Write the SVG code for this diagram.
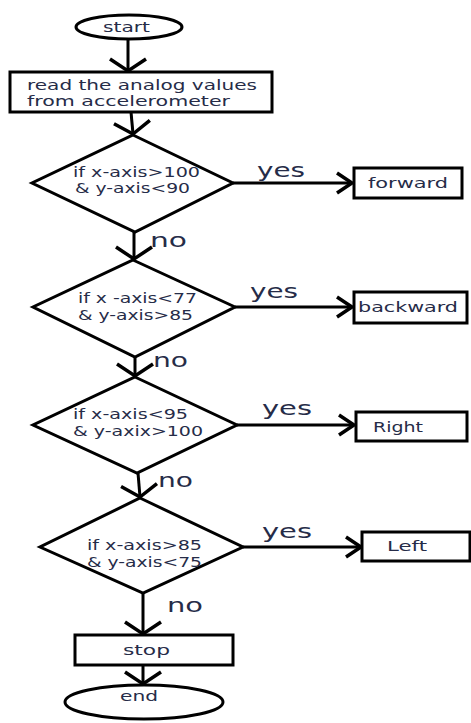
<svg xmlns="http://www.w3.org/2000/svg" width="471" height="723" viewBox="0 0 471 723">
<style>
.shape{fill:#fff;stroke:#000;stroke-width:3}
.conn{fill:none;stroke:#000;stroke-width:3}
.t{font-family:"DejaVu Sans","Liberation Sans",sans-serif;fill:#262c48}
.s{font-size:14px}
.m{font-size:13.5px}
.l{font-size:20px}
</style>
<defs>
<marker id="av" markerUnits="userSpaceOnUse" markerWidth="40" markerHeight="44" refX="0" refY="0" orient="auto" overflow="visible">
<path d="M -12 -18 L 0 0 L -12 18" fill="none" stroke="#000" stroke-width="3.5"/>
</marker>
<marker id="ah" markerUnits="userSpaceOnUse" markerWidth="20" markerHeight="26" refX="0" refY="0" orient="auto" overflow="visible">
<path d="M -15 -10 L 0 0 L -15 10" fill="none" stroke="#000" stroke-width="3.5"/>
</marker>
</defs>
<rect width="471" height="723" fill="#fff"/>
<g id="connectors">
<path class="conn" d="M128 39 L128 71" marker-end="url(#av)"/>
<path class="conn" d="M131 112 L133 134" marker-end="url(#av)"/>
<path class="conn" d="M134 232 L134 259" marker-end="url(#av)"/>
<path class="conn" d="M135 357 L135 376" marker-end="url(#av)"/>
<path class="conn" d="M138 473 L140 497" marker-end="url(#av)"/>
<path class="conn" d="M143 593 L143 634" marker-end="url(#av)"/>
<path class="conn" d="M143 665 L143 684" marker-end="url(#av)"/>
<path class="conn" d="M233 183 L352 183" marker-end="url(#ah)"/>
<path class="conn" d="M235 307 L352 307" marker-end="url(#ah)"/>
<path class="conn" d="M237 425 L354 425" marker-end="url(#ah)"/>
<path class="conn" d="M243 547 L361 547" marker-end="url(#ah)"/>
<text class="t l" x="257" y="177" textLength="48" lengthAdjust="spacingAndGlyphs">yes</text>
<text class="t l" x="250" y="298" textLength="48" lengthAdjust="spacingAndGlyphs">yes</text>
<text class="t l" x="262" y="415" textLength="50" lengthAdjust="spacingAndGlyphs">yes</text>
<text class="t l" x="262" y="538" textLength="50" lengthAdjust="spacingAndGlyphs">yes</text>
<text class="t l" x="150" y="247" textLength="37" lengthAdjust="spacingAndGlyphs">no</text>
<text class="t l" x="153" y="367" textLength="35" lengthAdjust="spacingAndGlyphs">no</text>
<text class="t l" x="158" y="487" textLength="35" lengthAdjust="spacingAndGlyphs">no</text>
<text class="t l" x="167" y="612" textLength="36" lengthAdjust="spacingAndGlyphs">no</text>
</g>
<g id="start">
<ellipse class="shape" cx="129" cy="27" rx="53" ry="12"/>
<text class="t s" x="103" y="32" textLength="47" lengthAdjust="spacingAndGlyphs">start</text>
</g>
<g id="read">
<rect class="shape" x="10" y="72" width="262" height="40"/>
<text class="t m" x="27" y="90" textLength="230" lengthAdjust="spacingAndGlyphs">read the analog values</text>
<text class="t m" x="27" y="106" textLength="203" lengthAdjust="spacingAndGlyphs">from accelerometer</text>
</g>
<g id="decision1">
<polygon class="shape" points="133,135 233,183 135,232 32,183"/>
<text class="t s" x="73" y="177" textLength="127" lengthAdjust="spacingAndGlyphs">if x-axis&gt;100</text>
<text class="t s" x="75" y="193" textLength="115" lengthAdjust="spacingAndGlyphs">&amp; y-axis&lt;90</text>
</g>
<g id="forward">
<rect class="shape" x="354" y="168" width="108" height="30"/>
<text class="t s" x="368" y="188" textLength="80" lengthAdjust="spacingAndGlyphs">forward</text>
</g>
<g id="decision2">
<polygon class="shape" points="133,260 235,307 135,357 33,307"/>
<text class="t s" x="78" y="303" textLength="119" lengthAdjust="spacingAndGlyphs">if x -axis&lt;77</text>
<text class="t s" x="78" y="320" textLength="115" lengthAdjust="spacingAndGlyphs">&amp; y-axis&gt;85</text>
</g>
<g id="backward">
<rect class="shape" x="354" y="292" width="113" height="31"/>
<text class="t s" x="358" y="312" textLength="100" lengthAdjust="spacingAndGlyphs">backward</text>
</g>
<g id="decision3">
<polygon class="shape" points="135,377 237,425 137,473 33,425"/>
<text class="t s" x="73" y="419" textLength="115" lengthAdjust="spacingAndGlyphs">if x-axis&lt;95</text>
<text class="t s" x="73" y="436" textLength="130" lengthAdjust="spacingAndGlyphs">&amp; y-axix&gt;100</text>
</g>
<g id="right">
<rect class="shape" x="356" y="412" width="111" height="29"/>
<text class="t s" x="373" y="432" textLength="50" lengthAdjust="spacingAndGlyphs">Right</text>
</g>
<g id="decision4">
<polygon class="shape" points="140,498 243,547 143,593 40,547"/>
<text class="t s" x="87" y="550" textLength="115" lengthAdjust="spacingAndGlyphs">if x-axis&gt;85</text>
<text class="t s" x="87" y="567" textLength="115" lengthAdjust="spacingAndGlyphs">&amp; y-axis&lt;75</text>
</g>
<g id="left">
<rect class="shape" x="362" y="532" width="108" height="29"/>
<text class="t s" x="387" y="551" textLength="40" lengthAdjust="spacingAndGlyphs">Left</text>
</g>
<g id="stop">
<rect class="shape" x="75" y="635" width="158" height="30"/>
<text class="t s" x="123" y="655" textLength="47" lengthAdjust="spacingAndGlyphs">stop</text>
</g>
<g id="end">
<ellipse class="shape" cx="144" cy="702" rx="79" ry="17"/>
<text class="t s" x="120" y="701" textLength="38" lengthAdjust="spacingAndGlyphs">end</text>
</g>
</svg>
